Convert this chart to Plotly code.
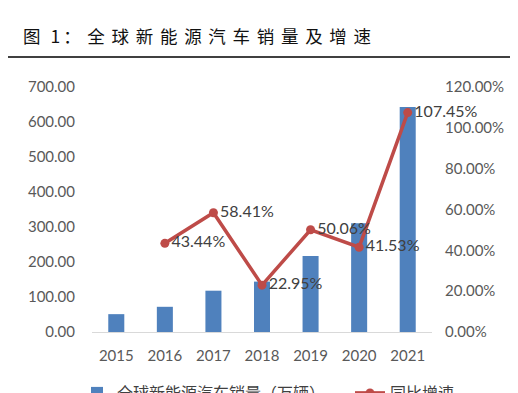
import plotly.graph_objects as go

years = ["2015", "2016", "2017", "2018", "2019", "2020", "2021"]
sales = [51, 72, 118, 144, 217, 311, 643]
growth_years = ["2016", "2017", "2018", "2019", "2020", "2021"]
growth = [43.44, 58.41, 22.95, 50.06, 41.53, 107.45]
growth_labels = ["43.44%", "58.41%", "22.95%", "50.06%", "41.53%", "107.45%"]

W, H = 518, 393
L, R, T, B = 92, 86, 87, 61
pw, ph = W - L - R, H - T - B

def px_x(p):
    return (p - L) / pw

def px_y(p):
    return (H - B - p) / ph

tick_font = dict(family="Lato, Noto Sans, sans-serif", size=15, color="#595959")
legend_font = dict(family="Noto Sans CJK SC", size=16, color="#404040")

fig = go.Figure()
fig.add_trace(go.Bar(
    x=years, y=sales, name="全球新能源汽车销量（万辆）",
    marker=dict(color="#4F81BD", line=dict(width=0)),
    legend="legend",
))
fig.add_trace(go.Scatter(
    x=growth_years, y=growth, name="同比增速", yaxis="y2",
    mode="lines+markers+text",
    line=dict(color="#BE4B48", width=3.5),
    marker=dict(color="#BE4B48", size=9),
    text=growth_labels, textposition="middle right",
    textfont=dict(family="Lato, Noto Sans, sans-serif", size=16, color="#404040"),
    cliponaxis=False,
    legend="legend2",
))

title_text = ('<span style="letter-spacing:3px">图 1</span>'
              '<span style="letter-spacing:6.7px">：全球新能源汽车销量及增速</span>')

fig.update_layout(
    width=W, height=H,
    margin=dict(l=L, r=R, t=T, b=B, autoexpand=False),
    paper_bgcolor="white", plot_bgcolor="white",
    bargap=0.67,
    showlegend=True,
    legend=dict(orientation="h", x=px_x(77), xanchor="left", y=px_y(376), yanchor="top",
                font=legend_font, bgcolor="rgba(0,0,0,0)"),
    legend2=dict(orientation="h", x=px_x(350), xanchor="left", y=px_y(376), yanchor="top",
                 font=legend_font, bgcolor="rgba(0,0,0,0)"),
    xaxis=dict(type="category", showgrid=False, showline=True, linecolor="#D9D9D9",
               linewidth=1, ticks="", tickfont=tick_font, ticklabelstandoff=10),
    yaxis=dict(range=[0, 700], dtick=100, tickformat=".2f", showgrid=False,
               zeroline=False, showline=False, tickfont=tick_font, ticklabelstandoff=16),
    yaxis2=dict(range=[0, 120], dtick=20, tickformat=".2f", ticksuffix="%",
                overlaying="y", side="right", showgrid=False, zeroline=False,
                showline=False, tickfont=tick_font, ticklabelstandoff=12),
    annotations=[dict(
        text=title_text, xref="paper", yref="paper",
        x=px_x(21), y=px_y(36), xanchor="left", yanchor="middle", showarrow=False,
        font=dict(family="Noto Sans CJK SC", size=17.5, color="#111111", weight="normal"),
    )],
    shapes=[dict(type="line", xref="paper", yref="paper",
                 x0=px_x(8), x1=px_x(510), y0=px_y(57), y1=px_y(57),
                 line=dict(color="#404040", width=2))],
)

fig.write_html("out.html", config={"displayModeBar": False},
               post_script="document.body.style.margin='0';")
